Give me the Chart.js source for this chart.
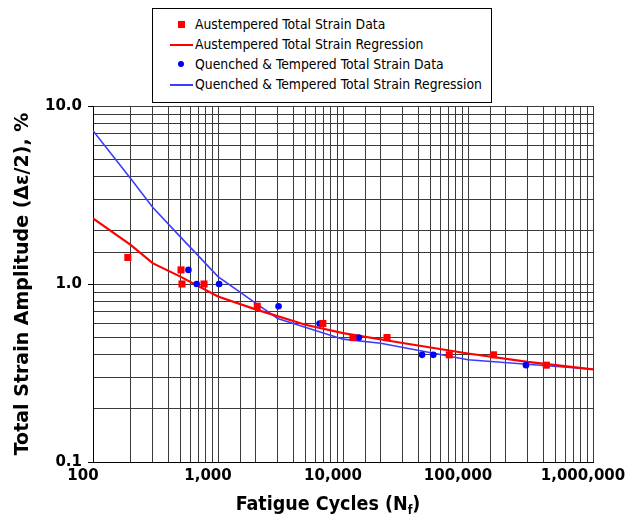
<!DOCTYPE html>
<html>
<head>
<meta charset="utf-8">
<title>Total Strain Amplitude vs Fatigue Cycles</title>
<script src="https://cdn.jsdelivr.net/npm/chart.js@4.4.1/dist/chart.umd.min.js"></script>
<style>
  body { margin: 0; background: #fff; }
  #wrap { position: relative; width: 631px; height: 521px; }
  #legend {
    position: absolute; left: 152px; top: 8px; width: 338px; height: 88px;
    border: 1px solid #000; background: #fff; padding-top: 5px; box-sizing: content-box;
    font: 13.8px "DejaVu Sans Condensed", "DejaVu Sans", sans-serif; color: #000;
  }
  #legend .row { position: relative; height: 20px; line-height: 20px; padding-left: 42px; white-space: nowrap; }
  #legend .mk { position: absolute; }
</style>
</head>
<body>
<div id="wrap">
  <canvas id="chart" width="631" height="521"></canvas>
  <div id="legend"></div>
</div>
<script>
const austCycles = [190, 506, 515, 773, 2060, 6900, 12000, 22500, 70800, 160000, 423000];
const austStrain = [1.41, 1.2, 1.0, 1.0, 0.75, 0.6, 0.5, 0.5, 0.4, 0.4, 0.35];
const qtCycles = [580, 675, 1020, 3050, 6500, 12200, 13400, 42900, 52800, 291000];
const qtStrain = [1.2, 1.0, 1.0, 0.75, 0.6, 0.5, 0.5, 0.4, 0.4, 0.35];

// regression curves
const austFitCycles = [100, 200, 300, 500, 1000, 2000, 5000, 10000, 30000, 100000, 300000, 1000000];
const austFitStrain = [2.34, 1.66, 1.31, 1.10, 0.85, 0.72, 0.59, 0.53, 0.466, 0.407, 0.365, 0.331];
const qtFitCycles = [100, 200, 300, 500, 1000, 2000, 3000, 10000, 20000, 100000, 1000000];
const qtFitStrain = [7.27, 3.92, 2.70, 1.84, 1.10, 0.78, 0.64, 0.49, 0.465, 0.375, 0.332];

// axis labels
const xMajorTicks = [100, 1000, 10000, 100000, 1000000];
const xMajorLabels = ['100', '1,000', '10,000', '100,000', '1,000,000'];
const yMajorTicks = [0.1, 1, 10];
const yMajorLabels = ['0.1', '1.0', '10.0'];

const seriesNames = [
  'Austempered Total Strain Data',
  'Austempered Total Strain Regression',
  'Quenched & Tempered Total Strain Data',
  'Quenched & Tempered Total Strain Regression'
];

const RED = '#ff0000';
const BLUE = '#0000ff';
const BLUE_LINE = '#3c3cff';
const GRID = '#3a3a3a';

function pairs(xs, ys) {
  return xs.map((x, i) => ({ x, y: ys[i] }));
}

function findMajor(list, v) {
  return list.findIndex(t => Math.abs(v / t - 1) < 1e-6);
}

// x axis title with subscript f
const xTitlePlugin = {
  id: 'xTitle',
  afterDraw(chart) {
    const { ctx, chartArea } = chart;
    const family = '"DejaVu Sans Condensed", "DejaVu Sans", sans-serif';
    const bigFont = 'bold 19.5px ' + family;
    const smallFont = 'bold 12px ' + family;
    ctx.save();
    ctx.fillStyle = '#000';
    ctx.textBaseline = 'alphabetic';
    ctx.font = bigFont;
    const a = 'Fatigue Cycles (N';
    const c = ')';
    const wa = ctx.measureText(a).width;
    const wc = ctx.measureText(c).width;
    ctx.font = smallFont;
    const wb = ctx.measureText('f').width;
    const total = wa + wb + wc;
    let x = (chartArea.left + chartArea.right) / 2 - 15 - total / 2;
    const y = chart.height - 11;
    ctx.font = bigFont;
    ctx.fillText(a, x, y);
    x += wa;
    ctx.font = smallFont;
    ctx.fillText('f', x, y + 4);
    x += wb;
    ctx.font = bigFont;
    ctx.fillText(c, x, y);
    ctx.restore();
  }
};

const chart = new Chart(document.getElementById('chart'), {
  type: 'scatter',
  data: {
    datasets: [
      {
        label: seriesNames[0],
        data: pairs(austCycles, austStrain),
        pointStyle: 'rect',
        pointRadius: 5,
        backgroundColor: RED,
        borderColor: RED,
        borderWidth: 0,
        showLine: false
      },
      {
        label: seriesNames[2],
        data: pairs(qtCycles, qtStrain),
        pointStyle: 'circle',
        pointRadius: 3.3,
        backgroundColor: BLUE,
        borderColor: BLUE,
        borderWidth: 0,
        showLine: false
      },
      {
        label: seriesNames[1],
        data: pairs(austFitCycles, austFitStrain),
        showLine: true,
        pointRadius: 0,
        borderColor: RED,
        borderWidth: 2.2,
        tension: 0
      },
      {
        label: seriesNames[3],
        data: pairs(qtFitCycles, qtFitStrain),
        showLine: true,
        pointRadius: 0,
        borderColor: BLUE_LINE,
        borderWidth: 1.6,
        tension: 0
      }
    ]
  },
  options: {
    responsive: false,
    animation: false,
    layout: { padding: { top: 106, right: 38, left: 0, bottom: 0 } },
    plugins: {
      legend: { display: false },
      tooltip: { enabled: false }
    },
    scales: {
      x: {
        type: 'logarithmic',
        min: 100,
        max: 1000000,
        afterFit(scale) {
          scale.height = 59;
          // the end labels may hang over, don't shrink the plot for them
          scale.paddingLeft = 0;
          scale.paddingRight = 0;
        },
        border: { color: '#000', width: 1 },
        grid: { color: GRID, lineWidth: 1, drawTicks: false },
        ticks: {
          autoSkip: false,
          maxRotation: 0,
          minRotation: 0,
          padding: 5,
          labelOffset: -10,
          color: '#000',
          font: { family: '"DejaVu Sans", sans-serif', weight: 'bold', size: 15 },
          callback(value) {
            const i = findMajor(xMajorTicks, value);
            return i >= 0 ? xMajorLabels[i] : '';
          }
        }
      },
      y: {
        type: 'logarithmic',
        min: 0.1,
        max: 10,
        afterFit(scale) {
          scale.width = 93;
          scale.paddingTop = 0;
          scale.paddingBottom = 0;
        },
        border: { color: '#000', width: 1 },
        grid: {
          color: GRID,
          lineWidth: 1,
          drawTicks: true,
          tickLength: 5,
          tickColor(ctx) {
            return ctx.tick && findMajor(yMajorTicks, ctx.tick.value) >= 0 ? '#000' : 'rgba(0,0,0,0)';
          }
        },
        ticks: {
          autoSkip: false,
          padding: 6,
          color: '#000',
          font: { family: '"DejaVu Sans", sans-serif', weight: 'bold', size: 15 },
          callback(value) {
            const i = findMajor(yMajorTicks, value);
            return i >= 0 ? yMajorLabels[i] : '';
          }
        },
        title: {
          display: true,
          text: 'Total Strain Amplitude (\u0394\u03b5/2), %',
          color: '#000',
          padding: { top: 12, bottom: 0 },
          font: { family: '"DejaVu Sans", sans-serif', weight: 'bold', size: 19 }
        }
      }
    }
  },
  plugins: [xTitlePlugin]
});

// boxed legend, in the original order
(function buildLegend() {
  const legend = document.getElementById('legend');
  const styles = [
    { kind: 'rect', color: RED },
    { kind: 'line', color: RED, width: 2 },
    { kind: 'dot', color: BLUE },
    { kind: 'line', color: BLUE_LINE, width: 1.5 }
  ];
  seriesNames.forEach((name, i) => {
    const row = document.createElement('div');
    row.className = 'row';
    const mk = document.createElement('span');
    mk.className = 'mk';
    const s = styles[i];
    if (s.kind === 'rect') {
      Object.assign(mk.style, { left: '25px', top: '7px', width: '7px', height: '7px', background: s.color });
    } else if (s.kind === 'dot') {
      Object.assign(mk.style, { left: '25px', top: '7px', width: '6px', height: '6px', borderRadius: '50%', background: s.color });
    } else {
      Object.assign(mk.style, { left: '17px', top: '10px', width: '23px', height: s.width + 'px', background: s.color });
    }
    row.appendChild(mk);
    row.appendChild(document.createTextNode(name));
    legend.appendChild(row);
  });
})();
</script>
</body>
</html>
